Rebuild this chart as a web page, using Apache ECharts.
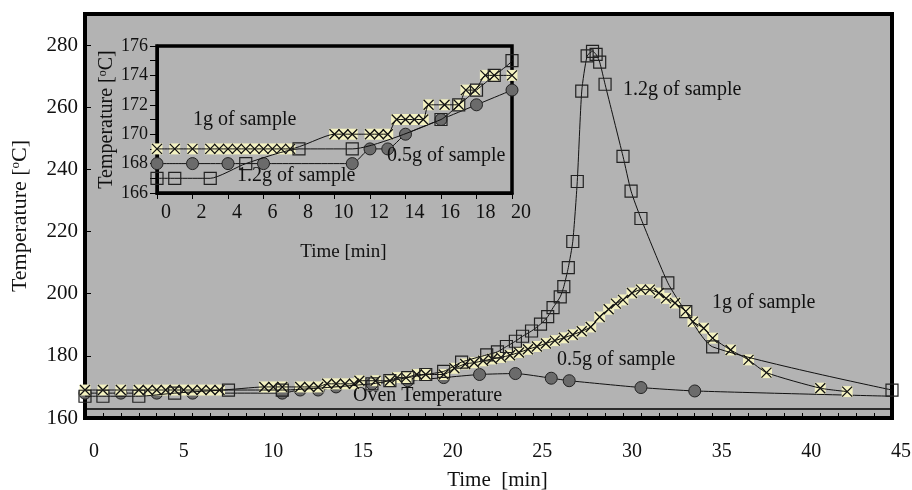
<!DOCTYPE html>
<html>
<head>
<meta charset="utf-8">
<script src="https://cdn.jsdelivr.net/npm/echarts@6/dist/echarts.min.js"></script>
<style>
html, body { margin: 0; padding: 0; background: #fff; }
#main { width: 912px; height: 490px; }
</style>
</head>
<body>
<div id="main"></div>
<script>
// time [min], temperature [°C]
var sample12 = [[0,167],[1,167],[3,167],[5,168],[8,169],[11,169],[16,171],[17,172],[18,173],[19,174],[20,175],
  [21,178],[22.4,180.3],[23,181.3],[23.5,183],[24,184.7],[24.4,186.3],[24.9,188],[25.4,190.2],[25.8,192.6],
  [26.1,195.5],[26.5,199],[26.7,202.3],[26.95,208.4],[27.2,216.8],[27.45,236.1],[27.7,265.2],[28,276.5],
  [28.3,278],[28.5,277],[28.7,274.5],[29,267.4],[30,244.2],[30.45,233],[31,224.2],[32.5,203.5],[33.5,194.2],
  [35,182.9],[45,169]];
var sample1 = [[0,169],[1,169],[2,169],[3,169],[3.5,169],[4,169],[4.5,169],[5,169],[5.5,169],[6,169],[6.5,169],
  [7,169],[7.5,169],[10,170],[10.5,170],[11,170],[12,170],[12.5,170],[13,170],[13.5,171],[14,171],[14.5,171],
  [15,171],[15.3,172],[16.2,172],[17,172],[17.4,173],[17.9,173],[18.5,174],[19,174],[20,174],[20.6,176],
  [21.2,177.4],[21.7,177.8],[22.2,178.4],[22.7,179],[23.2,179.5],[23.7,180.2],[24.2,181.1],[24.7,182.1],
  [25.2,183],[25.7,184],[26.2,184.9],[26.7,185.8],[27.2,186.8],[27.7,187.9],[28.2,189.3],[28.7,192.5],
  [29.2,195],[29.6,196.8],[30,198],[30.5,200.2],[31,201.3],[31.5,201.3],[32,200.2],[32.4,198.5],[32.9,197],
  [33.5,194.3],[33.9,191],[34.5,188.9],[35,185.7],[36,181.9],[37,178.7],[38,174.6],[41,169.6],[42.5,168.5]];
var sample05 = [[0,168],[2,168],[4,168],[6,168],[11,168],[12,169],[13,169],[14,170],[16,171],[18,172],[20,173],
  [22,174],[24,174.3],[26,172.8],[27,172],[31,169.8],[34,168.7],[45,167]];
var mainYTicks = [160, 290, 20];
var mainXTicks = [0, 45, 5];
var insetYTicks = [166, 176, 1];
var insetXTicks = [0, 20, 2];

var SERIF = '"Liberation Serif", "DejaVu Serif", serif';
var BG = '#b3b3b3';

function build(g, lw, sz, z0) {
  var oven = sample05.map(function (p, i) {
    return i === sample05.length - 1 ? { value: p, symbol: 'none' } : p;
  });
  var list = [
    {
      type: 'line', xAxisIndex: g, yAxisIndex: g, data: oven, symbol: 'circle', symbolSize: sz,
      smooth: 0.2, lineStyle: { color: '#111', width: lw },
      itemStyle: { color: '#6b6b6b', borderColor: '#222', borderWidth: 1 }, z: z0
    },
    {
      type: 'line', xAxisIndex: g, yAxisIndex: g, data: sample1, symbol: 'rect', symbolSize: sz - 1,
      lineStyle: { width: 0, opacity: 0 },
      itemStyle: { color: '#f3f1c0', borderWidth: 0 }, z: z0 + 1
    },
    {
      type: 'line', xAxisIndex: g, yAxisIndex: g, data: sample1, symbol: 'path://M0,0L10,10M10,0L0,10',
      symbolSize: sz - 2, smooth: 0.2, lineStyle: { color: '#111', width: lw },
      itemStyle: { color: 'rgba(0,0,0,0)', borderColor: '#111', borderWidth: 1.3 }, z: z0 + 2
    },
    {
      type: 'line', xAxisIndex: g, yAxisIndex: g, data: sample12, symbol: 'rect', symbolSize: sz,
      smooth: 0.2, lineStyle: { color: '#111', width: lw },
      itemStyle: { color: 'rgba(0,0,0,0)', borderColor: '#222', borderWidth: 1.2 }, z: z0 + 3
    }
  ];
  if (g === 0) {
    list[0].markLine = {
      silent: true, symbol: 'none', label: { show: false },
      lineStyle: { color: '#000', width: 1.5, type: 'solid' },
      data: [{ yAxis: 163 }]
    };
  }
  return list;
}

var chart = echarts.init(document.getElementById('main'));
var option = {
  backgroundColor: '#fff',
  animation: false,
  textStyle: { fontFamily: SERIF, color: '#111' },
  grid: [
    { left: 85, top: 14, right: 20, bottom: 72, outerBoundsMode: 'none', containLabel: false,
      show: true, backgroundColor: BG, borderColor: '#000', borderWidth: 4 },
    { left: 157, top: 46, right: 400, bottom: 297, outerBoundsMode: 'none', containLabel: false,
      show: true, backgroundColor: BG, borderColor: '#000', borderWidth: 3.5 }
  ],
  xAxis: [
    {
      type: 'value', gridIndex: 0, min: mainXTicks[0], max: mainXTicks[1], interval: mainXTicks[2],
      name: 'Time  [min]', nameLocation: 'middle', nameGap: 52,
      nameTextStyle: { fontFamily: SERIF, fontSize: 21, color: '#111', padding: [0, 0, 0, 18] },
      axisLine: { lineStyle: { color: '#000', width: 3 } },
      axisTick: { inside: true, length: 5, lineStyle: { color: '#000' } },
      minorTick: { show: true, splitNumber: 5, length: 5, lineStyle: { color: '#000' } },
      axisLabel: { fontFamily: SERIF, fontSize: 20, color: '#111', margin: 24, padding: [0, 0, 0, 18] },
      splitLine: { show: false }
    },
    {
      type: 'value', gridIndex: 1, min: insetXTicks[0], max: insetXTicks[1], interval: insetXTicks[2],
      name: 'Time [min]', nameLocation: 'middle', nameGap: 50,
      nameTextStyle: { fontFamily: SERIF, fontSize: 19, color: '#111', padding: [0, 0, 0, 18] },
      axisLine: { lineStyle: { color: '#000', width: 3 } },
      axisTick: { inside: false, length: 6, lineStyle: { color: '#000' } },
      axisLabel: { fontFamily: SERIF, fontSize: 20, color: '#111', margin: 10, padding: [0, 0, 0, 18] },
      splitLine: { show: false }
    }
  ],
  yAxis: [
    {
      type: 'value', gridIndex: 0, min: mainYTicks[0], max: mainYTicks[1], interval: mainYTicks[2],
      name: 'Temperature [{s|o}C]', nameLocation: 'middle', nameGap: 54,
      nameTextStyle: {
        fontFamily: SERIF, fontSize: 22, color: '#111',
        rich: { s: { fontFamily: SERIF, fontSize: 13, color: '#111', verticalAlign: 'top', padding: [0, 0, 9, 0] } }
      },
      axisLine: { lineStyle: { color: '#000', width: 3 } },
      axisTick: { inside: true, length: 6, lineStyle: { color: '#000' } },
      axisLabel: { fontFamily: SERIF, fontSize: 21, color: '#111', margin: 7, showMaxLabel: false },
      splitLine: { show: false }
    },
    {
      type: 'value', gridIndex: 1, min: insetYTicks[0], max: insetYTicks[1], interval: insetYTicks[2],
      name: 'Temperature [{s|o}C]', nameLocation: 'middle', nameGap: 35,
      nameTextStyle: {
        fontFamily: SERIF, fontSize: 20, color: '#111',
        rich: { s: { fontFamily: SERIF, fontSize: 12, color: '#111', verticalAlign: 'top', padding: [0, 0, 8, 0] } }
      },
      axisLine: { lineStyle: { color: '#000', width: 3 } },
      axisTick: { inside: false, length: 7, lineStyle: { color: '#000' } },
      axisLabel: {
        fontFamily: SERIF, fontSize: 18, color: '#111', margin: 9,
        formatter: function (v) { return v % 2 === 0 ? String(v) : ''; }
      },
      splitLine: { show: false }
    }
  ],
  series: build(0, 1, 12, 3).concat(build(1, 1, 12, 13)),
  graphic: [
    { type: 'text', left: 623, top: 80, z: 20, style: { text: '1.2g of sample', font: '20px ' + SERIF, fill: '#111' } },
    { type: 'text', left: 712, top: 293, z: 20, style: { text: '1g of sample', font: '20px ' + SERIF, fill: '#111' } },
    { type: 'text', left: 557, top: 350, z: 20, style: { text: '0.5g of sample', font: '20px ' + SERIF, fill: '#111' } },
    { type: 'text', left: 353, top: 386, z: 20, style: { text: 'Oven Temperature', font: '20px ' + SERIF, fill: '#111' } },
    { type: 'text', left: 193, top: 110, z: 20, style: { text: '1g of sample', font: '20px ' + SERIF, fill: '#111' } },
    { type: 'text', left: 237, top: 166, z: 20, style: { text: '1.2g of sample', font: '20px ' + SERIF, fill: '#111' } },
    { type: 'text', left: 387, top: 146, z: 20, style: { text: '0.5g of sample', font: '20px ' + SERIF, fill: '#111' } }
  ]
};
chart.setOption(option);
window.onresize = chart.resize;
</script>
</body>
</html>
